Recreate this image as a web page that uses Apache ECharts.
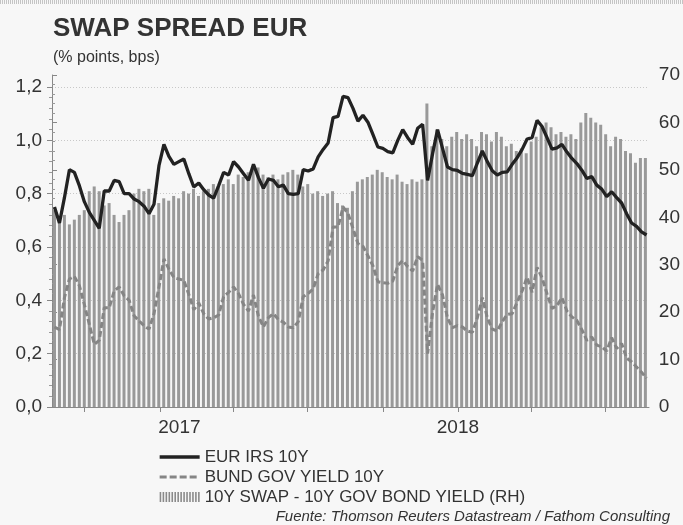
<!DOCTYPE html>
<html><head><meta charset="utf-8">
<script src="https://cdn.jsdelivr.net/npm/echarts@6/dist/echarts.min.js"></script>
<style>html,body{margin:0;padding:0;background:#f7f7f7}#c{width:683px;height:525px}</style>
</head><body><div id="c"></div>
<script>
// ---- data ----
const startDate = '2016-08-22';
const endDate = '2018-08-23';
const irs10y = [0.75,0.69,0.785,0.89,0.88,0.83,0.77,0.73,0.70,0.67,
 0.81,0.81,0.85,0.845,0.80,0.80,0.78,0.77,0.753,0.725,
 0.76,0.905,0.985,0.94,0.91,0.92,0.93,0.875,0.825,0.84,
 0.815,0.795,0.783,0.83,0.88,0.87,0.92,0.90,0.875,0.85,
 0.91,0.86,0.82,0.855,0.85,0.826,0.832,0.80,0.797,0.80,
 0.89,0.885,0.893,0.938,0.966,0.99,1.085,1.09,1.165,1.16,
 1.12,1.072,1.094,1.068,1.022,0.975,0.97,0.958,0.953,1.00,
 1.04,1.01,0.985,1.045,1.06,0.85,0.95,1.04,0.97,0.90,
 0.89,0.887,0.876,0.872,0.868,0.915,0.96,0.92,0.886,0.87,
 0.88,0.882,0.91,0.935,0.966,1.005,1.01,1.075,1.052,1.01,
 0.967,0.972,0.985,0.956,0.932,0.913,0.888,0.857,0.864,0.832,
 0.817,0.789,0.807,0.785,0.765,0.725,0.69,0.677,0.657,0.645];
const bund10y = [0.30,0.29,0.41,0.48,0.49,0.455,0.385,0.31,0.235,0.25,
 0.372,0.372,0.435,0.45,0.417,0.40,0.342,0.323,0.305,0.292,
 0.35,0.45,0.555,0.517,0.485,0.48,0.475,0.422,0.365,0.39,
 0.35,0.33,0.335,0.345,0.414,0.43,0.45,0.425,0.385,0.36,
 0.42,0.34,0.30,0.335,0.35,0.328,0.318,0.30,0.297,0.32,
 0.414,0.426,0.443,0.50,0.514,0.548,0.675,0.675,0.75,0.726,
 0.67,0.613,0.603,0.567,0.53,0.47,0.466,0.464,0.472,0.53,
 0.55,0.526,0.51,0.564,0.55,0.20,0.355,0.46,0.42,0.333,
 0.298,0.305,0.30,0.285,0.28,0.335,0.41,0.335,0.292,0.285,
 0.32,0.347,0.35,0.393,0.435,0.487,0.43,0.523,0.485,0.425,
 0.37,0.38,0.41,0.36,0.338,0.325,0.29,0.25,0.262,0.232,
 0.226,0.21,0.26,0.22,0.238,0.183,0.17,0.15,0.13,0.108];
const swapSpread = [41.5,39.5,40.5,38.5,39.5,40.5,41.5,45.5,46.5,45.5,
 42.5,43,40.5,39,40.5,41.5,45,46,45.5,46,
 40.5,43,44,43.5,44.5,44,45.5,45,46,44.5,
 45.5,46,47,46.5,47,48,47,49,48.5,49.5,
 50,50.5,49,48.5,49,48,49,49.5,50,49,
 46.5,47,45,45.5,44.5,45,45.5,43,42.5,42,
 45.5,47.5,48,48.5,49,50,49.5,48.5,48,49,
 47.5,47,48,47.5,48,64,55,58.5,56.5,55,
 57,58,56.5,57.5,56.5,55,58,57.5,56,58,
 57,55,55.5,54,54.5,53.5,56,57,59,60,
 59,57.5,58,57,57.5,56.5,60,62,61,60,
 59.5,57.5,55,57,56.5,54,53.5,51.5,52.5,52.5];
const seriesNames = ['EUR IRS 10Y','BUND GOV YIELD 10Y','10Y SWAP - 10Y GOV BOND YIELD (RH)'];
const quarterTicks = ['2016-10-01','2017-01-01','2017-04-01','2017-07-01','2017-10-01','2018-01-01','2018-04-01','2018-07-01'];
const yearLabels = ['2017','2018'];
const yearLabelDates = ['2017-01-25','2018-01-01'];
const leftTicks = [0,0.2,0.4,0.6,0.8,1.0,1.2];
const rightTicks = [0,10,20,30,40,50,60,70];

// ---- build (x expressed in days since startDate) ----
const DAY = 86400000;
const ts = d => Date.UTC(+d.slice(0, 4), +d.slice(5, 7) - 1, +d.slice(8, 10));
const t0 = ts(startDate);
const dayOf = d => (ts(d) - t0) / DAY;
const span = dayOf(endDate);
const N = irs10y.length;
const step = span / N;
const xs = irs10y.map((_, i) => (i + 0.5) * step);
const pairs = arr => arr.map((v, i) => [xs[i], v]);
const tickDays = quarterTicks.map(dayOf);
const labelDays = yearLabelDates.map(dayOf);
const FONT = '"Liberation Sans", Arial, sans-serif';
let stripe = 'path://';
for (let k = 0; k < 14; k++) stripe += 'M' + (k * 3) + ',0h1.6v10h-1.6z';

const chart = echarts.init(document.getElementById('c'), null, {renderer: 'canvas'});
chart.setOption({
  backgroundColor: '#f7f7f7',
  animation: false,
  textStyle: {fontFamily: FONT},
  graphic: [{type: 'line', shape: {x1: 0, y1: 2, x2: 683, y2: 2}, style: {stroke: '#c4c4c4', lineWidth: 4, lineDash: [1, 1]}, silent: true}],
  title: [
    {text: 'SWAP SPREAD EUR', left: 53, top: 16, padding: 0, textStyle: {fontFamily: FONT, fontSize: 26, fontWeight: 'bold', color: '#333'}},
    {text: '(% points, bps)', left: 53, top: 50, padding: 0, textStyle: {fontFamily: FONT, fontSize: 16, fontWeight: 'normal', color: '#333'}},
    {text: 'Fuente: Thomson Reuters Datastream / Fathom Consulting', right: 13, top: 509, padding: 0, textStyle: {fontFamily: FONT, fontSize: 15, fontStyle: 'italic', fontWeight: 'normal', color: '#333'}}
  ],
  legend: {
    orient: 'vertical', left: 158, top: 447, padding: 0, itemGap: 0,
    itemWidth: 40, itemHeight: 10,
    textStyle: {fontFamily: FONT, fontSize: 17, color: '#333', lineHeight: 20},
    data: [
      {name: seriesNames[0], itemStyle: {opacity: 0}, lineStyle: {width: 3.3, color: '#222'}},
      {name: seriesNames[1], itemStyle: {opacity: 0}, lineStyle: {width: 3, color: '#858585', type: [7, 3]}},
      {name: seriesNames[2], icon: stripe, itemStyle: {color: '#8a8a8a'}}
    ]
  },
  grid: [
    {left: 52, right: 34, top: 87, bottom: 118},
    {left: 52, right: 34, top: 75, bottom: 118}
  ],
  xAxis: [
    {type: 'value', gridIndex: 0, min: 0, max: span,
     axisLine: {lineStyle: {color: '#888'}},
     axisTick: {show: true, length: 5, lineStyle: {color: '#888'}, customValues: tickDays},
     axisLabel: {customValues: labelDays, margin: 11, fontSize: 19, color: '#333', fontFamily: FONT,
       formatter: v => { let best = 0; labelDays.forEach((t, i) => { if (Math.abs(t - v) < Math.abs(labelDays[best] - v)) best = i; }); return yearLabels[best]; }},
     splitLine: {show: false}, minorTick: {show: false}},
    {type: 'value', gridIndex: 1, min: 0, max: span, show: false, splitLine: {show: false}}
  ],
  yAxis: [
    {type: 'value', gridIndex: 0, min: leftTicks[0], max: leftTicks[leftTicks.length - 1], interval: 0.2, position: 'left',
     axisLine: {show: true, lineStyle: {color: '#888'}},
     axisTick: {show: true, length: 5, lineStyle: {color: '#888'}},
     minorTick: {show: true, splitNumber: 5, length: 3, lineStyle: {color: '#999'}},
     axisLabel: {margin: 10, fontSize: 19, color: '#333', fontFamily: FONT, formatter: v => v.toFixed(1).replace('.', ',')},
     splitLine: {show: true, lineStyle: {color: '#c8c8c8', type: [1, 2]}}},
    {type: 'value', gridIndex: 1, min: rightTicks[0], max: rightTicks[rightTicks.length - 1], interval: 10, position: 'right',
     axisLine: {show: true, lineStyle: {color: '#888'}},
     axisTick: {show: true, length: 5, lineStyle: {color: '#888'}},
     minorTick: {show: true, splitNumber: 5, length: 3, lineStyle: {color: '#999'}},
     axisLabel: {margin: 11, fontSize: 19, color: '#333', fontFamily: FONT},
     splitLine: {show: false}}
  ],
  series: [
    {name: seriesNames[0], type: 'line', xAxisIndex: 0, yAxisIndex: 0, data: pairs(irs10y), symbol: 'none', z: 5,
     lineStyle: {color: '#222', width: 3.3}, itemStyle: {color: '#222'}},
    {name: seriesNames[1], type: 'line', xAxisIndex: 0, yAxisIndex: 0, data: pairs(bund10y), symbol: 'none', z: 4,
     lineStyle: {color: '#858585', width: 3, type: [6, 3]}, itemStyle: {color: '#858585'}},
    {name: seriesNames[2], type: 'bar', xAxisIndex: 1, yAxisIndex: 1, data: pairs(swapSpread), barWidth: 3, z: 2,
     itemStyle: {color: '#999999'}}
  ]
});
</script></body></html>
